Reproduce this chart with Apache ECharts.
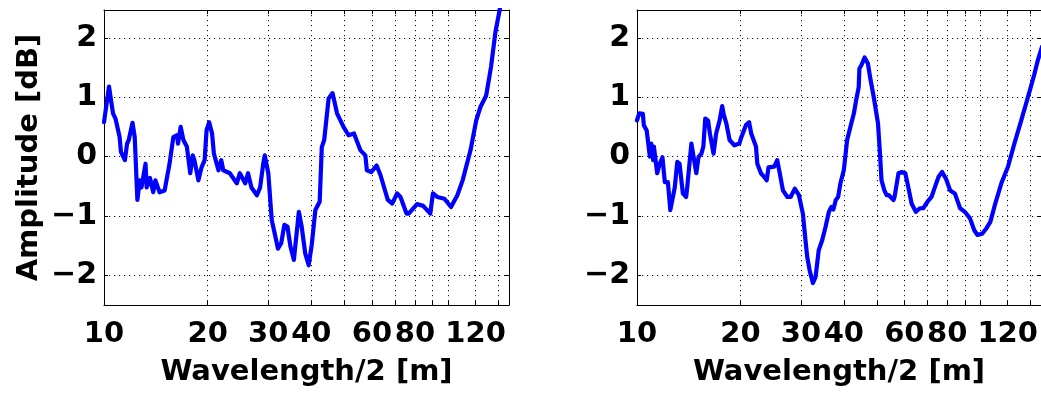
<!DOCTYPE html>
<html>
<head>
<meta charset="utf-8">
<script src="https://cdn.jsdelivr.net/npm/echarts@6/dist/echarts.min.js"></script>
<style>
html,body{margin:0;padding:0;background:#fff;}
#chart{width:1041px;height:393px;}
</style>
</head>
<body>
<div id="chart"></div>
<script>
// ---- data ----
const leftWavelength = [10.0,10.34,10.62,10.8,11.1,11.2,11.5,11.67,11.8,12.1,12.28,12.5,12.7,12.85,13.2,13.3,13.6,13.9,14.1,14.5,15.0,15.5,15.9,16.3,16.4,16.7,17.0,17.4,17.8,18.1,18.3,18.8,19.2,19.6,19.85,20.2,20.6,20.85,21.5,21.9,22.2,23.2,24.3,24.8,25.7,26.2,26.8,27.8,28.4,29.0,29.3,30.0,30.7,31.3,32.0,32.7,33.4,34.1,34.8,35.6,36.0,36.8,37.5,38.4,39.3,40.1,41.1,42.3,42.9,43.6,44.9,46.1,47.5,49.6,51.3,53.2,55.5,57.4,58.0,59.7,61.9,63.5,66.7,68.7,71.0,72.6,75.6,76.7,81.1,84.5,88.6,90.2,92.8,97.4,101.8,106.2,110.0,116.0,120.5,124.0,128.8,133.0,137.0,140.8,143];
const leftAmplitude = [0.58,1.18,0.73,0.64,0.33,0.08,-0.06,0.22,0.28,0.57,0.33,-0.73,-0.40,-0.52,-0.12,-0.52,-0.36,-0.60,-0.40,-0.60,-0.57,-0.12,0.33,0.36,0.22,0.50,0.28,0.17,-0.28,0.02,-0.06,-0.40,-0.18,-0.06,0.44,0.58,0.39,0.05,-0.23,-0.06,-0.23,-0.28,-0.45,-0.28,-0.45,-0.28,-0.52,-0.65,-0.52,-0.12,0.02,-0.28,-1.07,-1.29,-1.55,-1.46,-1.15,-1.18,-1.52,-1.74,-1.72,-0.93,-1.18,-1.63,-1.83,-1.49,-0.90,-0.76,0.16,0.28,0.98,1.07,0.73,0.50,0.36,0.39,0.11,0.02,-0.23,-0.26,-0.15,-0.31,-0.73,-0.79,-0.62,-0.68,-0.96,-0.96,-0.80,-0.83,-0.96,-0.62,-0.68,-0.71,-0.85,-0.65,-0.40,0.11,0.61,0.84,1.03,1.51,2.10,2.46,2.7];
const rightWavelength = [10.0,10.15,10.4,10.47,10.67,10.75,10.9,11.0,11.15,11.2,11.45,11.65,11.86,12.05,12.3,12.5,12.6,12.88,13.1,13.3,13.6,13.9,14.0,14.4,14.5,14.88,15.1,15.4,15.6,15.8,16.1,16.3,16.7,17.0,17.4,17.7,17.9,18.2,18.6,19.2,19.86,20.05,20.75,21.2,21.5,22.2,22.4,22.95,23.45,23.85,24.15,25.1,25.6,26.0,26.6,27.4,28.0,28.8,29.6,30.4,31.0,31.3,31.8,32.5,33.1,33.8,34.6,35.4,36.2,36.8,37.3,37.9,38.5,39.1,40.0,40.9,41.8,42.8,43.45,44.2,44.4,45.0,45.98,47.0,47.7,48.9,50.3,50.9,51.5,52.5,53.3,54.1,55.8,56.2,57.7,59.0,60.4,61.6,63.0,64.8,66.6,68.1,70.1,72.0,73.7,75.5,77.3,79.3,81.6,84.2,87.2,90.0,93.2,95.9,98.0,101.1,104.0,106.8,110.4,115.0,120.2,125.5,131.4,137.4,143.2,146.8,151];
const rightAmplitude = [0.61,0.73,0.72,0.53,0.44,0.47,0.0,0.22,-0.06,0.17,-0.28,-0.12,-0.01,-0.43,-0.43,-0.90,-0.87,-0.52,-0.09,-0.12,-0.62,-0.68,-0.52,0.22,0.22,-0.28,-0.01,0.05,0.17,0.64,0.61,0.39,0.05,0.39,0.61,0.85,0.70,0.56,0.28,0.19,0.22,0.30,0.53,0.58,0.39,0.17,-0.12,-0.28,-0.34,-0.40,-0.18,-0.17,-0.06,-0.26,-0.57,-0.68,-0.68,-0.54,-0.65,-0.96,-1.46,-1.69,-1.91,-2.13,-2.03,-1.58,-1.41,-1.18,-0.93,-0.85,-0.89,-0.73,-0.68,-0.45,-0.23,0.28,0.50,0.73,0.95,1.17,1.48,1.54,1.67,1.57,1.34,1.0,0.56,0.11,-0.40,-0.57,-0.65,-0.65,-0.73,-0.68,-0.28,-0.26,-0.28,-0.51,-0.79,-0.93,-0.87,-0.87,-0.76,-0.68,-0.51,-0.34,-0.26,-0.37,-0.57,-0.62,-0.87,-0.93,-1.04,-1.24,-1.32,-1.30,-1.21,-1.10,-0.79,-0.45,-0.17,0.22,0.61,1.0,1.37,1.62,1.85];
const xGridTicks = [10,20,30,40,50,60,70,80,90,100,120,140];
const xTickLabels = [10,20,30,40,60,80,120];
const yTicks = [-2,-1,0,1,2];
const xTitle = 'Wavelength/2 [m]';
const yTitle = 'Amplitude [dB]';

// ---- chart ----
const FONT = 'DejaVu Sans';
const chart = echarts.init(document.getElementById('chart'), null, {renderer:'canvas'});
const grids = [
  {left:104, top:10, width:405, height:295},
  {left:637, top:10, width:406, height:295}
];
const gridLine = {show:true, lineStyle:{color:'#111', width:1, type:[1.2,3.8]}};
function xAxes(gi){
  return [
    {type:'log', logBase:10, gridIndex:gi, position:'bottom', min:10, max:150,
     name:xTitle, nameLocation:'middle', nameGap:53,
     nameTextStyle:{fontFamily:FONT, fontWeight:'bold', fontSize:29, color:'#000'},
     axisLine:{show:true, onZero:false, lineStyle:{color:'#000', width:1}},
     axisTick:{show:true, inside:true, length:4, customValues:xGridTicks, lineStyle:{color:'#000'}},
     axisLabel:{show:true, customValues:xTickLabels, margin:15, fontFamily:FONT, fontWeight:'bold', fontSize:29, color:'#000'},
     splitLine:gridLine, minorTick:{show:false}, minorSplitLine:{show:false}},
    {type:'log', logBase:10, gridIndex:gi, position:'top', min:10, max:150,
     axisLine:{show:true, onZero:false, lineStyle:{color:'#000', width:1}},
     axisTick:{show:true, inside:true, length:4, customValues:xGridTicks, lineStyle:{color:'#000'}},
     axisLabel:{show:false}, splitLine:{show:false}}
  ];
}
function yAxes(gi, withName){
  const a = {type:'value', gridIndex:gi, position:'left', min:-2.5, max:2.47,
     axisLine:{show:true, onZero:false, lineStyle:{color:'#000', width:1}},
     axisTick:{show:true, inside:true, length:4, customValues:yTicks, lineStyle:{color:'#000'}},
     axisLabel:{show:true, customValues:yTicks, margin:7, fontFamily:FONT, fontWeight:'bold', fontSize:30, color:'#000',
       formatter:v => String(v).replace('-', '\u2212')},
     splitLine:gridLine};
  if (withName){
    a.name = yTitle; a.nameLocation = 'middle'; a.nameGap = 60;
    a.nameTextStyle = {fontFamily:FONT, fontWeight:'bold', fontSize:29, color:'#000'};
  }
  return [a,
    {type:'value', gridIndex:gi, position:'right', min:-2.5, max:2.47,
     axisLine:{show:true, onZero:false, lineStyle:{color:'#000', width:1}},
     axisTick:{show:true, inside:true, length:4, customValues:yTicks, lineStyle:{color:'#000'}},
     axisLabel:{show:false}, splitLine:{show:false}}
  ];
}
function pairs(xs, ys){ return xs.map((x,i)=>[x, ys[i]]); }
const lineStyle = {color:'#0000ff', width:4.2, join:'round', cap:'round'};
chart.setOption({
  animation:false,
  grid:grids,
  xAxis:[...xAxes(0), ...xAxes(1)],
  yAxis:[...yAxes(0,true), ...yAxes(1,false)],
  series:[
    {type:'line', xAxisIndex:0, yAxisIndex:0, data:pairs(leftWavelength,leftAmplitude), showSymbol:false, symbol:'none', lineStyle:lineStyle, clip:true},
    {type:'line', xAxisIndex:2, yAxisIndex:2, data:pairs(rightWavelength,rightAmplitude), showSymbol:false, symbol:'none', lineStyle:lineStyle, clip:true}
  ]
});
</script>
</body>
</html>
